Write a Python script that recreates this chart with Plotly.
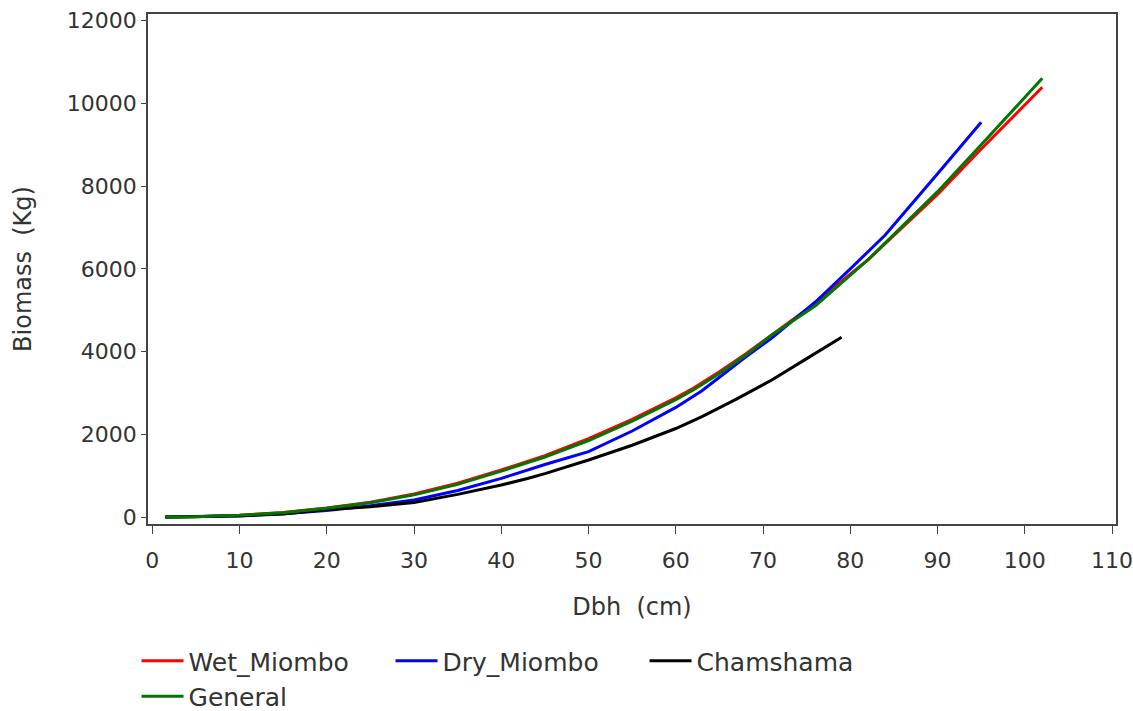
import plotly.graph_objects as go

# Diameter at breast height (cm) and predicted biomass (kg) for each model
wet_dbh = [1.5, 5, 10, 15, 20, 25, 30, 35, 40, 45, 50, 55, 60, 62, 65, 68, 71, 75, 82, 90, 95, 102]
wet_biomass = [1, 9, 45, 110, 220, 360, 556, 816, 1137, 1484, 1893, 2360, 2883, 3112, 3510, 3940, 4400, 5020, 6215, 7800, 8900, 10392]

dry_dbh = [1.5, 5, 10, 15, 20, 25, 30, 35, 40, 45, 50, 55, 60, 63, 68, 71, 76, 80, 84, 90, 95]
dry_biomass = [1, 6, 30, 80, 160, 270, 411, 640, 935, 1270, 1580, 2080, 2650, 3055, 3870, 4330, 5200, 6000, 6820, 8300, 9545]

cham_dbh = [1.5, 5, 10, 15, 20, 25, 30, 35, 40, 43, 45, 50, 55, 60, 63, 67, 71, 75, 79]
cham_biomass = [1, 5, 25, 75, 180, 250, 350, 548, 774, 930, 1049, 1378, 1735, 2140, 2426, 2858, 3313, 3830, 4346]

gen_dbh = [1.5, 5, 10, 15, 20, 25, 30, 35, 40, 45, 50, 55, 60, 62, 65, 68, 71, 76, 82, 90, 95, 102]
gen_biomass = [1, 9, 42, 105, 210, 345, 535, 790, 1110, 1450, 1850, 2320, 2840, 3070, 3470, 3910, 4400, 5110, 6215, 7867, 9000, 10609]

series = [
    ("Wet_Miombo", wet_dbh, wet_biomass, "#ff0000"),
    ("Dry_Miombo", dry_dbh, dry_biomass, "#0000ff"),
    ("Chamshama", cham_dbh, cham_biomass, "#000000"),
    ("General", gen_dbh, gen_biomass, "#007700"),
]

x_ticks = list(range(0, 111, 10))
y_ticks = list(range(0, 12001, 2000))

font_family = "DejaVu Sans, Liberation Sans, sans-serif"
text_color = "#333333"

fig = go.Figure()
for name, xs, ys, color in series:
    fig.add_trace(go.Scatter(
        x=xs, y=ys, mode="lines", name=name,
        line=dict(color=color, width=3),
    ))

axis_common = dict(
    showgrid=False, zeroline=False, automargin=False,
    showline=True, linecolor="#444444", linewidth=1.5, mirror=True,
    ticks="outside", tickcolor="#444444", tickwidth=1.2,
    ticklabeloverflow="allow",
    tickfont=dict(family=font_family, size=22, color=text_color),
)

fig.update_layout(
    width=1133, height=711,
    margin=dict(l=148, r=17, t=14, b=187),
    paper_bgcolor="white", plot_bgcolor="white",
    font=dict(family=font_family, size=22, color=text_color),
    xaxis=dict(
        range=[-0.49, 110.45], tickvals=x_ticks, ticktext=[str(v) for v in x_ticks],
        ticklen=8, ticklabelstandoff=8,
        title=dict(text="Dbh\u00a0 (cm)",
                   font=dict(family=font_family, size=24, color=text_color),
                   standoff=26),
        **axis_common,
    ),
    yaxis=dict(
        range=[-169, 12164], tickvals=y_ticks, ticktext=[str(v) for v in y_ticks],
        ticklen=5,
        title=dict(text="Biomass\u00a0 (Kg)",
                   font=dict(family=font_family, size=24, color=text_color),
                   standoff=28),
        **axis_common,
    ),
    legend=dict(
        orientation="h",
        xref="container", x=0.1205, xanchor="left",
        yref="container", y=0.1026, yanchor="top",
        entrywidth=197, entrywidthmode="pixels", itemwidth=42,
        font=dict(family=font_family, size=25, color=text_color),
        bgcolor="rgba(0,0,0,0)", tracegroupgap=0,
    ),
    showlegend=True,
)

fig.write_html("out.html")
